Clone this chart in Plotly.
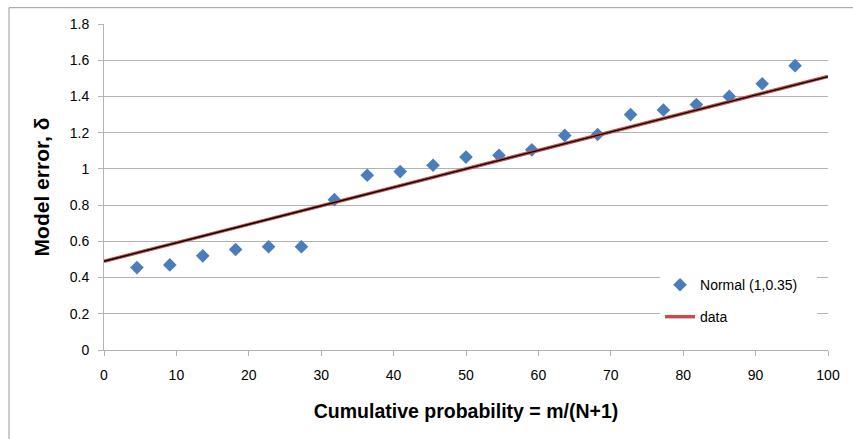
import plotly.graph_objects as go

# Data
prob_x = [4.55, 9.09, 13.64, 18.18, 22.73, 27.27, 31.82, 36.36, 40.91, 45.45, 50.0,
          54.55, 59.09, 63.64, 68.18, 72.73, 77.27, 81.82, 86.36, 90.91, 95.45]
model_err = [0.455, 0.47, 0.52, 0.555, 0.57, 0.57, 0.83, 0.965, 0.985, 1.02, 1.065,
             1.075, 1.105, 1.185, 1.19, 1.30, 1.325, 1.355, 1.40, 1.47, 1.57]
line_x = [0, 100]
line_y = [0.49, 1.51]

x_ticks = list(range(0, 101, 10))
y_ticks = [0, 0.2, 0.4, 0.6, 0.8, 1, 1.2, 1.4, 1.6, 1.8]
y_tick_text = ["0", "0.2", "0.4", "0.6", "0.8", "1", "1.2", "1.4", "1.6", "1.8"]

FONT = "Liberation Sans"
grid = "#b3b3b3"

fig = go.Figure()
fig.add_trace(go.Scatter(x=prob_x, y=model_err, mode="markers", name="Normal (1,0.35)",
                         legend="legend",
                         marker=dict(symbol="diamond", size=10.5, color="#4a7ebb")))
fig.add_trace(go.Scatter(x=line_x, y=line_y, mode="lines", name="data",
                         legend="legend2",
                         line=dict(color="#c0504d", width=3.5)))
fig.add_trace(go.Scatter(x=line_x, y=line_y, mode="lines", showlegend=False,
                         line=dict(color="#000000", width=1.3), hoverinfo="skip"))

leg_common = dict(xanchor="left", yanchor="middle", bgcolor="rgba(0,0,0,0)",
                  font=dict(family=FONT, size=14), itemwidth=30)

fig.update_layout(
    width=853, height=439,
    margin=dict(l=104, r=25, t=24, b=89),
    paper_bgcolor="white", plot_bgcolor="white",
    font=dict(family=FONT, size=14, color="black"),
    showlegend=True,
    legend=dict(x=0.768, y=0.199, **leg_common),
    legend2=dict(x=0.768, y=0.101, **leg_common),
    xaxis=dict(range=[0, 100], tickvals=x_ticks, showgrid=False, zeroline=False,
               showline=True, linecolor=grid, linewidth=1,
               ticks="outside", ticklen=5, tickcolor=grid,
               tickfont=dict(size=14), ticklabelstandoff=7,
               title=dict(text="<b>Cumulative probability = m/(N+1)</b>",
                          font=dict(family=FONT, size=19.5), standoff=22)),
    yaxis=dict(range=[0, 1.8], tickvals=y_ticks, ticktext=y_tick_text,
               showgrid=True, gridcolor=grid, gridwidth=1, zeroline=False,
               showline=True, linecolor=grid, linewidth=1,
               ticks="outside", ticklen=5, tickcolor=grid,
               tickfont=dict(size=14), ticklabelstandoff=6,
               title=dict(text="<b>Model error, δ</b>",
                          font=dict(family=FONT, size=21), standoff=14)),
    shapes=[
        dict(type="rect", xref="paper", yref="y", x0=(660 - 104) / 724, x1=(817 - 104) / 724,
             y0=0.08, y1=0.47, fillcolor="white", line=dict(width=0), layer="above"),
        dict(type="line", xref="paper", yref="paper", x0=-0.1312, x1=1.05, y0=1.05, y1=1.05,
             line=dict(color="#9a9a9a", width=1)),
        dict(type="line", xref="paper", yref="paper", x0=-0.1312, x1=-0.1312, y0=1.05, y1=-0.3,
             line=dict(color="#9a9a9a", width=1)),
    ],
)

fig.write_html("out.html")
